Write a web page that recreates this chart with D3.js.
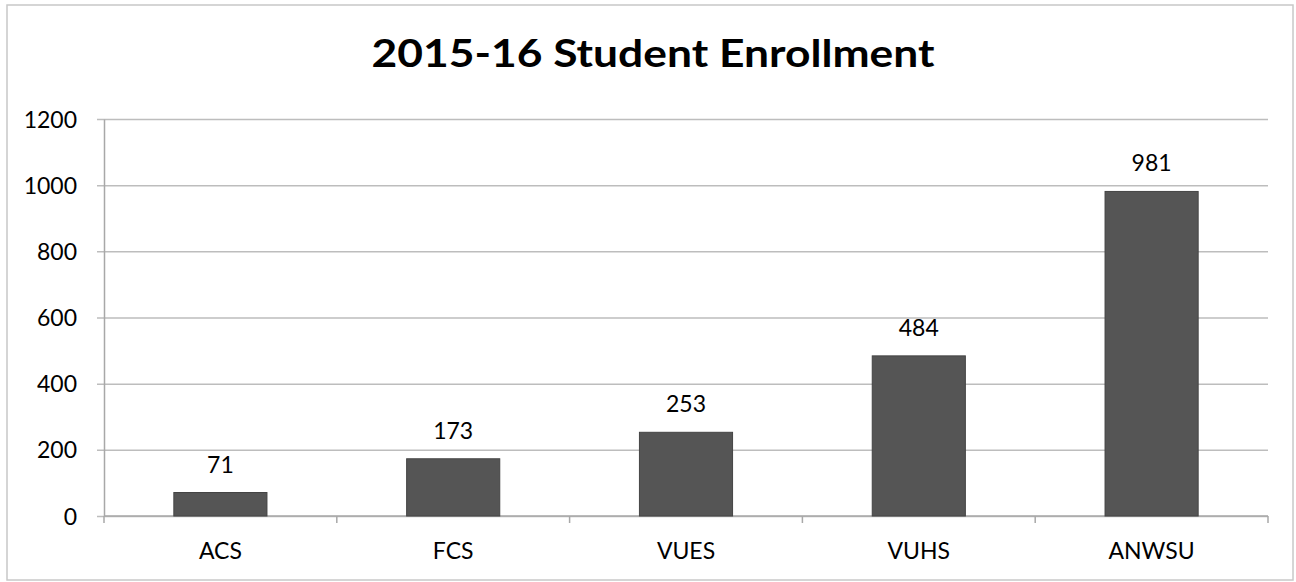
<!DOCTYPE html>
<html>
<head>
<meta charset="utf-8">
<script src="https://cdn.jsdelivr.net/npm/d3@7"></script>
<style>
  body { margin: 0; background: #fff; }
  svg text { font-family: Lato, "Liberation Sans", sans-serif; fill: #000; }
</style>
</head>
<body>
<svg id="chart" width="1296" height="582"></svg>
<script>
"use strict";

const schools = ["ACS", "FCS", "VUES", "VUHS", "ANWSU"];
const enrollment = [71, 173, 253, 484, 981];
const yTicks = [0, 200, 400, 600, 800, 1000, 1200];

const svg = d3.select("#chart");
const margin = {left: 104, right: 28, top: 119, bottom: 66};
const width = 1296 - margin.left - margin.right;
const height = 582 - margin.top - margin.bottom;

// chart frame
svg.append("rect")
    .attr("x", 7).attr("y", 5)
    .attr("width", 1286).attr("height", 575)
    .attr("fill", "none")
    .attr("stroke", "#c8c8c8")
    .attr("stroke-width", 1.5);

svg.append("text")
    .attr("x", 653).attr("y", 67)
    .attr("text-anchor", "middle")
    .attr("textLength", 563)
    .attr("lengthAdjust", "spacingAndGlyphs")
    .style("font-size", "38px")
    .style("font-weight", "bold")
    .text("2015-16 Student Enrollment");

const g = svg.append("g").attr("transform", `translate(${margin.left},${margin.top})`);

const x = d3.scaleBand().domain(schools).range([0, width]).paddingInner(0.6).paddingOuter(0.3);
const y = d3.scaleLinear().domain([0, 1200]).range([height, 0]);

// gridlines
g.append("g")
    .selectAll("line")
    .data(yTicks)
    .join("line")
    .attr("x1", -7).attr("x2", width)
    .attr("y1", d => y(d) + 0.5).attr("y2", d => y(d) + 0.5)
    .attr("stroke", "#bdbdbd")
    .attr("stroke-width", 1.5);

// y axis
const yAxis = g.append("g")
    .call(d3.axisLeft(y).tickValues(yTicks).tickFormat(d3.format("d")).tickSize(0).tickPadding(27));
yAxis.select(".domain").attr("stroke", "#a8a8a8").attr("stroke-width", 1.5);
yAxis.selectAll("text").style("font-size", "23px").attr("dy", "0.35em");

// x axis with ticks on band edges
const xAxis = g.append("g").attr("transform", `translate(0,${height})`);
xAxis.append("line")
    .attr("x1", 0).attr("x2", width)
    .attr("stroke", "#a8a8a8").attr("stroke-width", 1.5);
xAxis.selectAll(".edge")
    .data(d3.range(schools.length + 1))
    .join("line")
    .attr("class", "edge")
    .attr("x1", i => i * width / schools.length)
    .attr("x2", i => i * width / schools.length)
    .attr("y1", 0).attr("y2", 7)
    .attr("stroke", "#a8a8a8").attr("stroke-width", 1.5);
xAxis.selectAll(".cat")
    .data(schools)
    .join("text")
    .attr("class", "cat")
    .attr("x", d => x(d) + x.bandwidth() / 2)
    .attr("y", 43)
    .attr("text-anchor", "middle")
    .style("font-size", "23px")
    .text(d => d);

// bars
const data = schools.map((s, i) => ({school: s, value: enrollment[i]}));
g.selectAll(".bar")
    .data(data)
    .join("rect")
    .attr("class", "bar")
    .attr("x", d => x(d.school))
    .attr("y", d => y(d.value))
    .attr("width", x.bandwidth())
    .attr("height", d => height - y(d.value))
    .attr("fill", "#555")
    .attr("stroke", "#444")
    .attr("stroke-width", 1);

// value labels
g.selectAll(".val")
    .data(data)
    .join("text")
    .attr("class", "val")
    .attr("x", d => x(d.school) + x.bandwidth() / 2)
    .attr("y", d => y(d.value) - 20)
    .attr("text-anchor", "middle")
    .style("font-size", "23px")
    .text(d => d.value);
</script>
</body>
</html>
